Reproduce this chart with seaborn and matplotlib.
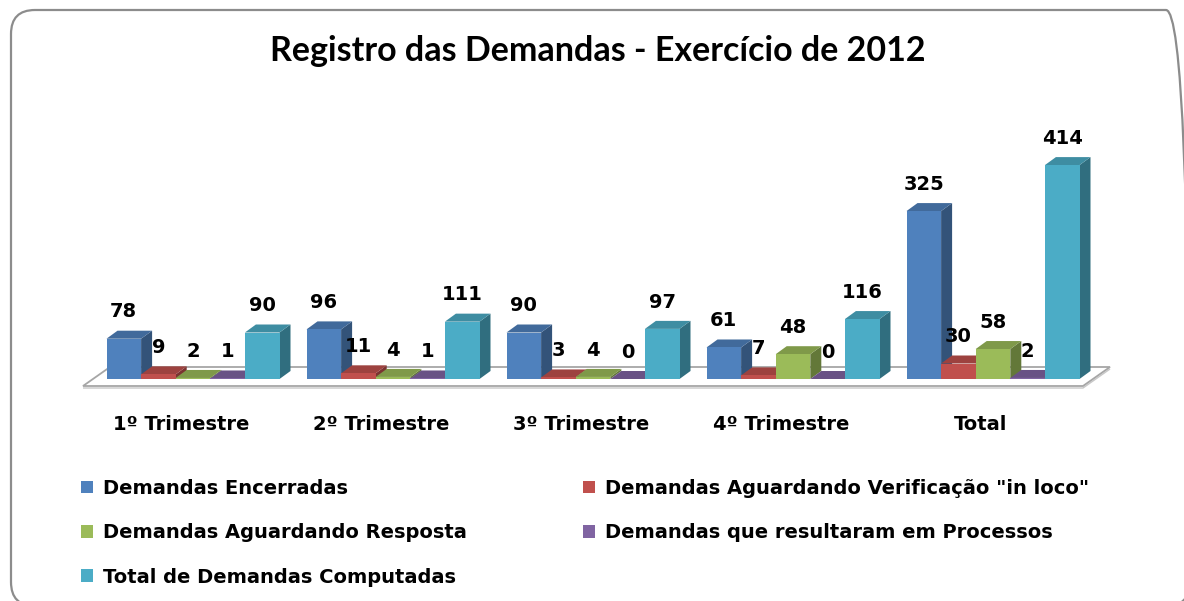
import numpy as np
import pandas as pd
import matplotlib
matplotlib.use("Agg")
import matplotlib.pyplot as plt
import seaborn as sns
from matplotlib.patches import Polygon, Patch, FancyBboxPatch, Rectangle
from matplotlib.transforms import IdentityTransform
import matplotlib.colors as mcolors

# ---------------- data ----------------
categories = ["1º Trimestre", "2º Trimestre", "3º Trimestre", "4º Trimestre", "Total"]
series = [
    "Demandas Encerradas",
    'Demandas Aguardando Verificação "in loco"',
    "Demandas Aguardando Resposta",
    "Demandas que resultaram em Processos",
    "Total de Demandas Computadas",
]
encerradas = [78, 96, 90, 61, 325]
verificacao = [9, 11, 3, 7, 30]
resposta = [2, 4, 4, 48, 58]
processos = [1, 1, 0, 0, 2]
total = [90, 111, 97, 116, 414]
colors = ["#4F81BD", "#C0504D", "#9BBB59", "#8064A2", "#4BACC6"]
title = "Registro das Demandas - Exercício de 2012"

values = [encerradas, verificacao, resposta, processos, total]
rows = []
for s, vals in zip(series, values):
    for c, v in zip(categories, vals):
        rows.append({"Categoria": c, "Série": s, "Valor": v})
df = pd.DataFrame(rows)

# ---------------- figure ----------------
sns.set_theme(style="white")
plt.rcParams["font.family"] = ["DejaVu Sans"]

W, H = 1184, 601
fig = plt.figure(figsize=(W / 100, H / 100), dpi=100)
fig.patch.set_facecolor("white")
ax = fig.add_axes([93 / W, (H - 379) / H, 1000 / W, 279 / H])

sns.barplot(data=df, x="Categoria", y="Valor", hue="Série", order=categories,
            hue_order=series, palette=colors, saturation=1, width=0.865,
            legend=False, ax=ax, linewidth=0, edgecolor="none")
ax.set_xlim(-0.5, 4.5)
ax.set_ylim(0, 540)
ax.set_facecolor("none")
for sp in ax.spines.values():
    sp.set_visible(False)
ax.set_yticks([])
ax.set_xlabel("")
ax.set_ylabel("")

# pixel -> data conversion for 3D depth
p0 = ax.transData.transform((0, 0))
p1 = ax.transData.transform((1, 1))
px_x = p1[0] - p0[0]
px_y = p1[1] - p0[1]
ddx = 11 / px_x
ddy = 8 / px_y

def shade(c, f):
    r, g, b = mcolors.to_rgb(c)
    return (r * f, g * f, b * f)

# floor
x_lo, x_hi = ax.get_xlim()
fx0 = x_lo - 10 / px_x
fx1 = x_hi - 10 / px_x
fy0 = -7 / px_y
bx = 27 / px_x
by = 19 / px_y
floor = Polygon([(fx0, fy0), (fx1, fy0), (fx1 + bx, fy0 + by), (fx0 + bx, fy0 + by)],
                closed=True, facecolor="white", edgecolor="#A6A6A6", lw=1.3,
                zorder=1, clip_on=False)
ax.add_patch(floor)
ax.add_patch(Polygon([(fx0, fy0 - 2 / px_y), (fx1, fy0 - 2 / px_y), (fx1 + bx, fy0 + by - 2 / px_y)],
                     closed=False, fill=False, edgecolor="#C8C8C8", lw=1.0, zorder=0.9,
                     clip_on=False))

bars = [p for p in ax.patches if isinstance(p, Rectangle) and p is not floor]
bars = [b for b in bars if b.get_width() > 0]
# bars are ordered hue-major
order = sorted(range(len(bars)), key=lambda k: bars[k].get_x())
rank = {k: r for r, k in enumerate(order)}
k = 0
for si, (s, vals) in enumerate(zip(series, values)):
    for ci, v in enumerate(vals):
        b = bars[k]
        z = 2 + rank[k] * 0.01
        x0, w, h = b.get_x(), b.get_width(), b.get_height()
        col = colors[si]
        b.set_zorder(z + 0.005)
        b.set_clip_on(False)
        top = Polygon([(x0, h), (x0 + w, h), (x0 + w + ddx, h + ddy), (x0 + ddx, h + ddy)],
                      closed=True, facecolor=shade(col, 0.82), edgecolor="none",
                      zorder=z, clip_on=False)
        side = Polygon([(x0 + w, 0), (x0 + w + ddx, ddy), (x0 + w + ddx, h + ddy), (x0 + w, h)],
                       closed=True, facecolor=shade(col, 0.64), edgecolor="none",
                       zorder=z, clip_on=False)
        ax.add_patch(side)
        ax.add_patch(top)
        ax.annotate(str(v), xy=(x0 + w / 2, h), xytext=(0, 12.5), textcoords="offset points",
                    ha="center", va="bottom", fontsize=14, fontweight="bold",
                    color="black", zorder=10, annotation_clip=False)
        k += 1

ax.set_xticks(np.arange(len(categories)) - 0.06, labels=categories)
ax.tick_params(axis="x", length=0, pad=26, labelsize=14)
for t in ax.get_xticklabels():
    t.set_fontweight("bold")
    t.set_color("black")

# title
fig.text(598 / W, 1 - 51 / H, title, ha="center", va="center", fontsize=24.5,
         fontweight="bold", family=["Lato", "DejaVu Sans"], color="black")

# legend (row-major order as in reference)
handles = [Patch(facecolor=c, edgecolor="none") for c in colors]
idx = [0, 2, 4, 1, 3]
fig.legend([handles[i] for i in idx], [series[i] for i in idx], loc="upper left",
           bbox_to_anchor=(81 / W, 1 - 479 / H), ncol=2, frameon=False,
           prop={"weight": "bold", "size": 14}, handlelength=0.62, handleheight=0.62,
           handletextpad=0.5, labelspacing=1.3, columnspacing=6.0, borderpad=0,
           borderaxespad=0, labelcolor="black")

# rounded border (right and bottom edges lie just outside the picture)
border = FancyBboxPatch((11, -5), 1190 - 11, H - 10 + 5,
                        boxstyle="round,pad=0,rounding_size=24",
                        transform=IdentityTransform(), fill=False,
                        edgecolor="#8C8C8C", lw=1.6)
fig.add_artist(border)

fig.savefig("out.png", dpi=100, facecolor="white")
